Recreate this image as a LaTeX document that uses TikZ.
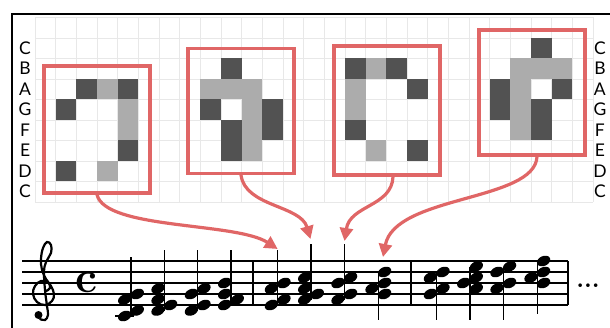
\documentclass[tikz,border=0pt]{standalone}
\usepackage{fontspec}
\usepackage{tikz}
\usetikzlibrary{arrows.meta}
\newfontfamily\notefont{Lato}
\definecolor{redline}{RGB}{224,102,102}
\definecolor{darkpx}{RGB}{82,82,82}
\definecolor{lightpx}{RGB}{172,172,172}
\definecolor{gridgray}{RGB}{232,232,232}

\begin{document}
\begin{tikzpicture}[
    x=1pt, y=-1pt,
    frame/.style={draw=black, line width=1.6pt},
    gridline/.style={draw=gridgray, line width=0.6pt},
    box/.style={draw=redline, line width=3.2pt, minimum width=106pt, minimum height=127pt, inner sep=0pt},
    arrow/.style={-{Triangle[length=13pt, width=13pt]}, draw=redline, line width=3.2pt},
    pitch/.style={font=\notefont\fontsize{17.5}{17.5}\selectfont, inner sep=0pt},
    staffline/.style={draw=black, line width=1.1pt},
    barline/.style={draw=black, line width=2pt},
    stem/.style={draw=black, line width=1.3pt}
]
\useasboundingbox (0,0) rectangle (610,327);
\draw[frame] (12,330) -- (12,14) -- (612,14);

% piano roll
\begin{scope}[shift={(35,17.3)}, x=20.67pt, y=-20.5pt]
  \foreach \i in {0,...,27} \draw[gridline] (\i,0) -- (\i,9);
  \foreach \j in {0,...,9} \draw[gridline] (0,\j) -- (27,\j);
  \foreach \c/\r in {2/3, 4/3, 1/4, 4/6, 1/7, 9/2, 8/4, 11/4, 9/5, 11/5, 9/6,
                     15/2, 17/2, 18/3, 15/5, 18/6, 24/1, 22/3, 25/3, 22/4, 24/4, 24/5}
    \fill[darkpx] (\c,\r) rectangle ++(1,1);
  \foreach \c/\r in {3/3, 4/4, 4/5, 3/7, 8/3, 9/3, 10/3, 10/4, 10/5, 10/6,
                     16/2, 15/3, 15/4, 16/6, 23/2, 24/2, 25/2, 23/3, 23/4, 23/5}
    \fill[lightpx] (\c,\r) rectangle ++(1,1);
  \foreach \r/\n in {1/C, 2/B, 3/A, 4/G, 5/F, 6/E, 7/D, 8/C} {
    \node[pitch] (left\r) at ({-0.48},{\r+0.5}) {\n};
    \node[pitch] (right\r) at ({27.33},{\r+0.5}) {\n};
  }
\end{scope}

\node[box] (roll1) at (97,129.5) {};
\node[box, minimum height=125pt] (roll2) at (241,110.8) {};
\node[box, minimum height=129pt] (roll3) at (387,110.5) {};
\node[box, minimum height=125pt] (roll4) at (532,92.5) {};

% staff
\foreach \k in {0,...,4} \draw[staffline] (22,{261+11*\k}) -- (568,{261+11*\k});
\foreach \bx in {253, 411, 568} \draw[barline] (\bx,261) -- (\bx,305);
\draw[line width=2.2pt, line cap=round] plot[smooth, tension=0.65] coordinates {
  (46,291) (50,288) (48,282) (41,281) (35,286) (33,294) (37,302) (45,305) (52,301)
  (54,294) (51,286) (46,279) (42,270) (41,259) (43,248) (47,242) (51,245) (51,253)
  (46,262) (44,272) (45,290) (47,306) (48,315) (45,320) (40,319)};
\fill (38.5,315) circle [radius=4pt];
\node[font=\fontsize{44}{44}\selectfont\bfseries, inner sep=0pt] (meter) at (86,283) {c};

\foreach \sx/\ya/\yb in {131/257/316, 164.3/250/310.5, 197.7/250/310.5, 231/250/305,
                         277.7/250/305, 311/244/299.5, 344.3/244/299.5, 378.3/272/320,
                         436.7/272/320, 470/266.5/320, 503.3/266.5/320, 537.3/261/314}
  \draw[stem] (\sx,\ya) -- (\sx,\yb);
\draw[stem] (115,316) -- (134,316);
\foreach \sx/\hl in {131/{-6.3/-2,6.3/-1,-6.3/1,6.3/2}, 164.3/{-6.3/-1,6.3/0,-6.3/1,-6.3/3},
                     197.7/{-6.3/-1,6.3/0,-6.3/2,6.3/3}, 231/{-6.3/0,6.3/1,-6.3/2,-6.3/4},
                     277.7/{-6.3/0,6.3/1,-6.3/3,6.3/4}, 311/{-6.3/1,6.3/2,-6.3/3,-6.3/5},
                     344.3/{-6.3/1,6.3/2,-6.3/4,6.3/5}, 378.3/{6.3/2,-6.3/3,6.3/4,6.3/6},
                     436.7/{-6.3/2,6.3/3,-6.3/5,6.3/6}, 470/{6.3/3,-6.3/4,6.3/5,6.3/7},
                     503.3/{-6.3/3,6.3/4,-6.3/6,6.3/7}, 537.3/{6.3/4,-6.3/5,6.3/6,6.3/8}}
  \foreach \dx/\st in \hl
    \fill[shift={({\sx+\dx},{305-5.5*\st})}, rotate=25] (0,0) ellipse [x radius=7pt, y radius=4.9pt];
\node[font=\fontsize{25}{25}\selectfont\bfseries, inner sep=0pt, anchor=base] (more) at (588,287) {...};

\coordinate (tip1) at (277.7,249);
\coordinate (tip2) at (310.5,239);
\coordinate (tip3) at (344.5,241);
\coordinate (tip4) at (383,257);
\draw[arrow] (roll1.south) .. controls +(8,35) and +(-42,-27) .. (tip1);
\draw[arrow] (roll2.south) .. controls +(4,32) and +(-10,-34) .. (tip2);
\draw[arrow] ([xshift=6pt]roll3.south) .. controls +(-1,30) and +(5.5,-36) .. (tip3);
\draw[arrow] ([xshift=5pt]roll4.south) .. controls +(-2,45) and +(12,-62) .. (tip4);

\end{tikzpicture}
\end{document}
